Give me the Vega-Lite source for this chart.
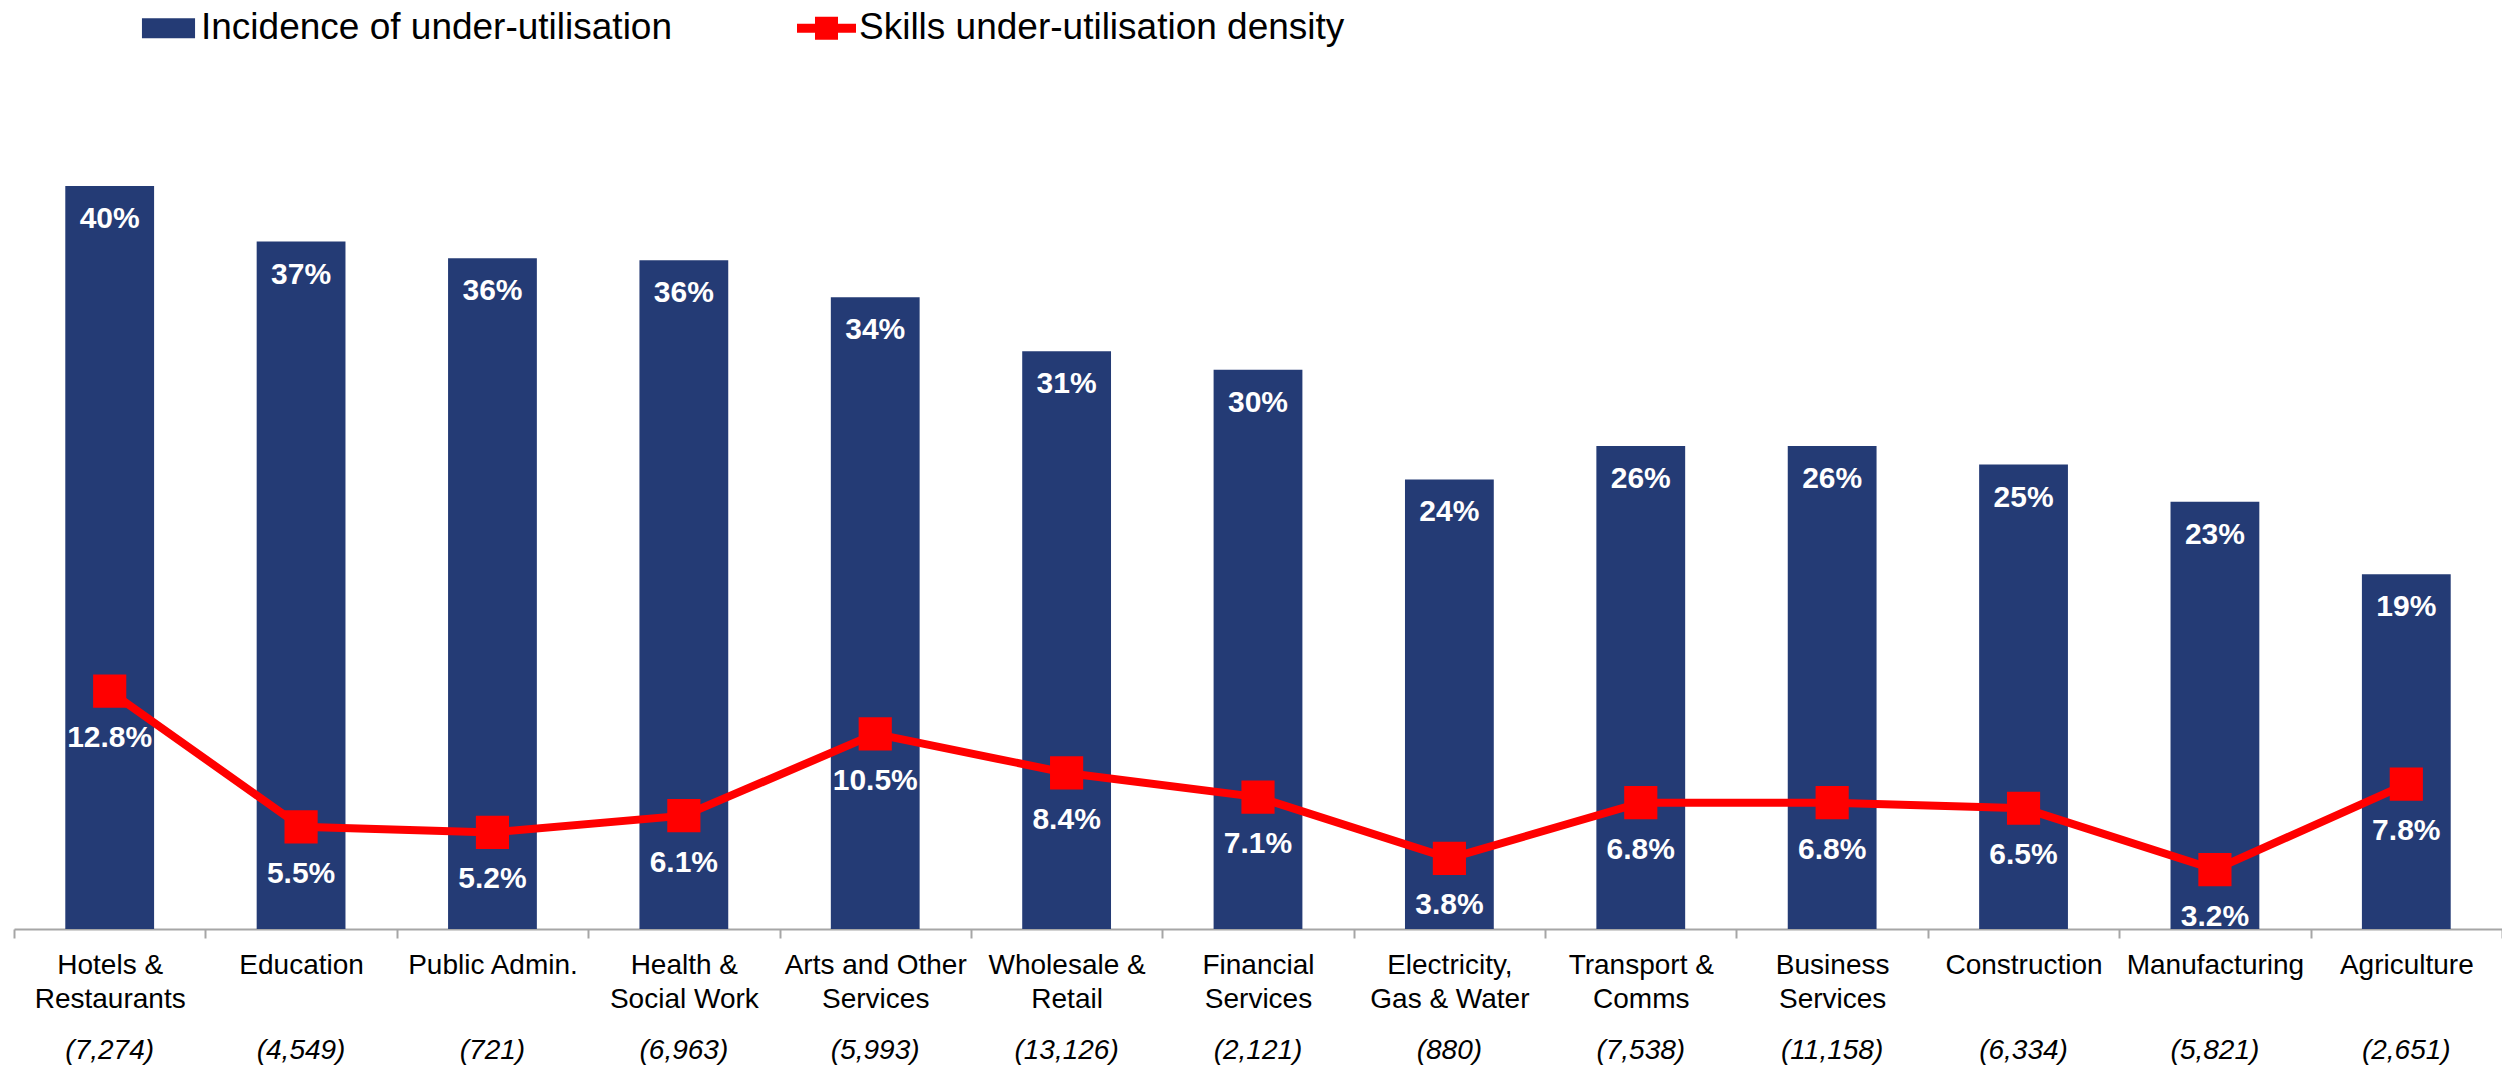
{
  "$schema": "https://vega.github.io/schema/vega-lite/v6.json",
  "width": 2488,
  "height": 836,
  "autosize": {"type": "none"},
  "padding": {"left": 14, "top": 93, "right": 0, "bottom": 136},
  "background": "white",
  "config": {"view": {"stroke": null}, "font": "Liberation Sans"},
  "data": {
    "values": [
      {"sector": "Hotels & Restaurants", "incidence": 0.400, "density": 0.128},
      {"sector": "Education", "incidence": 0.370, "density": 0.055},
      {"sector": "Public Admin.", "incidence": 0.361, "density": 0.052},
      {"sector": "Health & Social Work", "incidence": 0.360, "density": 0.061},
      {"sector": "Arts and Other Services", "incidence": 0.340, "density": 0.105},
      {"sector": "Wholesale & Retail", "incidence": 0.311, "density": 0.084},
      {"sector": "Financial Services", "incidence": 0.301, "density": 0.071},
      {"sector": "Electricity, Gas & Water", "incidence": 0.242, "density": 0.038},
      {"sector": "Transport & Comms", "incidence": 0.260, "density": 0.068},
      {"sector": "Business Services", "incidence": 0.260, "density": 0.068},
      {"sector": "Construction", "incidence": 0.250, "density": 0.065},
      {"sector": "Manufacturing", "incidence": 0.230, "density": 0.032},
      {"sector": "Agriculture", "incidence": 0.191, "density": 0.078}
    ]
  },
  "resolve": {"axis": {"x": "independent"}},
  "layer": [
    {
      "encoding": {
        "x": {
          "field": "sector", "type": "nominal", "sort": null,
          "scale": {"paddingInner": 0, "paddingOuter": 0},
          "axis": {
            "title": null, "orient": "bottom", "labelAngle": 0, "tickBand": "extent",
            "domainColor": "#a6a6a6", "domainWidth": 2, "tickColor": "#a6a6a6", "tickWidth": 2, "tickSize": 9,
            "labelFontSize": 28, "labelColor": "black", "labelPadding": 13, "labelLineHeight": 34,
            "labelAlign": "center", "labelBaseline": "top", "labelLimit": 400, "labelOverlap": false, "labelBound": false,
            "grid": false,
            "labelExpr": "({'Hotels & Restaurants':['Hotels &','Restaurants'],'Health & Social Work':['Health &','Social Work'],'Arts and Other Services':['Arts and Other','Services'],'Wholesale & Retail':['Wholesale &','Retail'],'Financial Services':['Financial','Services'],'Electricity, Gas & Water':['Electricity,','Gas & Water'],'Transport & Comms':['Transport &','Comms'],'Business Services':['Business','Services']})[datum.value] || datum.value"
          }
        },
        "y": {"field": "incidence", "type": "quantitative", "scale": {"domain": [0, 0.45]}, "axis": null}
      },
      "layer": [
        {
          "mark": {"type": "bar", "width": {"band": 0.464}},
          "encoding": {
            "color": {
              "datum": "Incidence of under-utilisation",
              "scale": {"domain": ["Incidence of under-utilisation", "Skills under-utilisation density"], "range": ["#243B75", "#FF0000"]},
              "legend": {
                "title": null, "orient": "none", "legendX": 125, "legendY": -94.5, "direction": "horizontal",
                "labelFontSize": 37, "labelColor": "black", "labelLimit": 1000, "labelOffset": 3,
                "columnPadding": 124, "symbolSize": 3481, "padding": 0, "symbolStrokeWidth": 0,
                "encode": {
                  "symbols": {
                    "update": {
                      "shape": {"signal": "datum.value === 'Incidence of under-utilisation' ? 'M-0.9,-0.34H0.9V0.34H-0.9Z' : 'M-1,-0.15H-0.39V-0.39H0.39V-0.15H1V0.15H0.39V0.39H-0.39V0.15H-1Z'"},
                      "fill": {"signal": "datum.value === 'Incidence of under-utilisation' ? '#243B75' : '#FF0000'"},
                      "stroke": {"value": "transparent"},
                      "opacity": {"value": 1}
                    }
                  }
                }
              }
            }
          }
        },
        {
          "mark": {"type": "text", "dy": 33, "fill": "white", "fontSize": 30, "fontWeight": "bold", "baseline": "middle", "align": "center"},
          "encoding": {"text": {"field": "incidence", "type": "quantitative", "format": ".0%"}}
        }
      ]
    },
    {
      "encoding": {
        "x": {
          "field": "sector", "type": "nominal", "sort": null,
          "scale": {"paddingInner": 0, "paddingOuter": 0},
          "axis": {
            "title": null, "orient": "bottom", "labelAngle": 0, "ticks": false, "domain": false, "offset": 97,
            "labelFontSize": 28, "labelFontStyle": "italic", "labelColor": "black", "labelPadding": 10,
            "labelAlign": "center", "labelBaseline": "top", "labelLimit": 400, "labelOverlap": false, "labelBound": false,
            "grid": false,
            "labelExpr": "({'Hotels & Restaurants':'(7,274)','Education':'(4,549)','Public Admin.':'(721)','Health & Social Work':'(6,963)','Arts and Other Services':'(5,993)','Wholesale & Retail':'(13,126)','Financial Services':'(2,121)','Electricity, Gas & Water':'(880)','Transport & Comms':'(7,538)','Business Services':'(11,158)','Construction':'(6,334)','Manufacturing':'(5,821)','Agriculture':'(2,651)'})[datum.value]"
          }
        },
        "y": {"field": "density", "type": "quantitative", "scale": {"domain": [0, 0.45]}, "axis": null}
      },
      "layer": [
        {
          "mark": {"type": "line", "strokeWidth": 8},
          "encoding": {"color": {"datum": "Skills under-utilisation density"}}
        },
        {
          "mark": {"type": "point", "shape": "square", "size": 1100, "filled": true, "opacity": 1},
          "encoding": {"color": {"datum": "Skills under-utilisation density"}}
        },
        {
          "mark": {"type": "text", "dy": 47, "fill": "white", "fontSize": 30, "fontWeight": "bold", "baseline": "middle", "align": "center"},
          "encoding": {"text": {"field": "density", "type": "quantitative", "format": ".1%"}}
        }
      ]
    }
  ]
}
